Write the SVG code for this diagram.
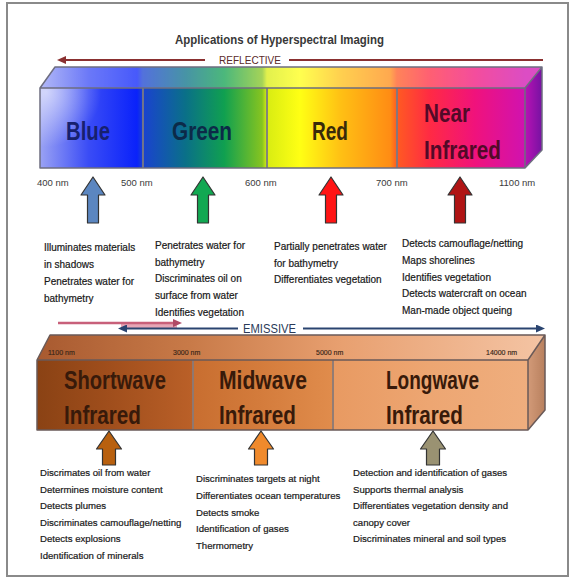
<svg xmlns="http://www.w3.org/2000/svg" width="573" height="581" viewBox="0 0 573 581">
<style>
.t{font-family:"Liberation Sans",Arial,sans-serif;fill:#181818;font-size:10px;stroke:#181818;stroke-width:0.2}
.tb{font-size:9.6px}
.nm{font-family:"Liberation Sans",Arial,sans-serif;fill:#3a3a3a;font-size:9.5px}
.nm2{font-family:"Liberation Sans",Arial,sans-serif;fill:#3a2618;font-size:7px;stroke:#3a2618;stroke-width:0.15}
.band{font-family:"Liberation Sans",Arial,sans-serif;font-size:26px;font-weight:bold}
.edge{fill:none;stroke:#6e6e80;stroke-width:1.5;stroke-linejoin:round}
.edge2{fill:none;stroke:#6a5a58;stroke-width:1.5;stroke-linejoin:round}
.div{stroke:#7a7a84;stroke-width:1.8}
.div2{stroke:#8a7a78;stroke-width:1.8}
.arr{stroke:#333;stroke-width:1.2;stroke-linejoin:round}
</style>
<defs>
<linearGradient id="specFront" gradientUnits="userSpaceOnUse" x1="40" y1="0" x2="525" y2="0">
<stop offset="0" stop-color="#9aa2f4"/>
<stop offset="0.1" stop-color="#3a4cf6"/>
<stop offset="0.2" stop-color="#0a22fa"/>
<stop offset="0.212" stop-color="#1a42d0"/>
<stop offset="0.3" stop-color="#0a7088"/>
<stop offset="0.38" stop-color="#10a050"/>
<stop offset="0.458" stop-color="#86c420"/>
<stop offset="0.468" stop-color="#d8ec12"/>
<stop offset="0.536" stop-color="#ffff14"/>
<stop offset="0.62" stop-color="#ffc014"/>
<stop offset="0.722" stop-color="#ff8c14"/>
<stop offset="0.736" stop-color="#ff5a22"/>
<stop offset="0.804" stop-color="#ff2a44"/>
<stop offset="0.897" stop-color="#f0127c"/>
<stop offset="1" stop-color="#d012b0"/>
</linearGradient>
<linearGradient id="specSide" x1="0" y1="0" x2="1" y2="0">
<stop offset="0" stop-color="#b812b4"/>
<stop offset="1" stop-color="#7612a2"/>
</linearGradient>
<radialGradient id="hl" gradientUnits="userSpaceOnUse" cx="46" cy="92" r="55">
<stop offset="0" stop-color="#fff" stop-opacity="0.6"/>
<stop offset="1" stop-color="#fff" stop-opacity="0"/>
</radialGradient>
<linearGradient id="irFront" gradientUnits="userSpaceOnUse" x1="37" y1="0" x2="528" y2="0">
<stop offset="0" stop-color="#8a4214"/>
<stop offset="0.149" stop-color="#a04e1c"/>
<stop offset="0.316" stop-color="#ba6028"/>
<stop offset="0.32" stop-color="#c86e30"/>
<stop offset="0.458" stop-color="#d47c3c"/>
<stop offset="0.601" stop-color="#e08c4c"/>
<stop offset="0.605" stop-color="#e89a62"/>
<stop offset="0.8" stop-color="#eda672"/>
<stop offset="1" stop-color="#efae7e"/>
</linearGradient>
<linearGradient id="irTop" gradientUnits="userSpaceOnUse" x1="37" y1="0" x2="545" y2="0">
<stop offset="0" stop-color="#a85a30"/>
<stop offset="0.3" stop-color="#c87a48"/>
<stop offset="0.6" stop-color="#e8a070"/>
<stop offset="1" stop-color="#f4c4a4"/>
</linearGradient>
<linearGradient id="irSide" x1="0" y1="0" x2="1" y2="0">
<stop offset="0" stop-color="#d29a78"/>
<stop offset="1" stop-color="#b8805e"/>
</linearGradient>
<path id="arrT" d="M0,0 L12,18 L5.5,18 L5.5,46 L-5.5,46 L-5.5,18 L-12,18 Z"/>
<path id="arrB" d="M0,0 L12.5,18 L6.5,18 L6.5,34 L-6.5,34 L-6.5,18 L-12.5,18 Z"/>
<marker id="mRed" markerUnits="userSpaceOnUse" markerWidth="10" markerHeight="8" refX="2" refY="4" orient="auto">
<path d="M0,0 L9,4 L0,8 Z" fill="#8a3030"/>
</marker>
<marker id="mPink" markerUnits="userSpaceOnUse" markerWidth="10" markerHeight="8" refX="2" refY="4" orient="auto">
<path d="M0,0 L9,4 L0,8 Z" fill="#b04a66"/>
</marker>
<marker id="mBlue" markerUnits="userSpaceOnUse" markerWidth="10" markerHeight="8" refX="2" refY="4" orient="auto">
<path d="M0,0 L9,4 L0,8 Z" fill="#2a4470"/>
</marker>
</defs>

<rect x="0" y="0" width="573" height="581" fill="#fff"/>
<rect id="frame" x="7" y="3" width="561" height="573" fill="#fff" stroke="#8a8a8a" stroke-width="2"/>

<g id="title">
<text x="175" y="44" font-family="'Liberation Sans',Arial,sans-serif" font-size="12.5" font-weight="bold" fill="#383838" textLength="209" lengthAdjust="spacingAndGlyphs">Applications of Hyperspectral Imaging</text>
</g>

<g id="reflective-bar">
<polygon points="40,88 55,67 542,67 525,88" fill="url(#specFront)"/>
<polygon points="40,88 55,67 542,67 525,88" fill="#fff" opacity="0.25"/>
<rect x="40" y="88" width="485" height="80" fill="url(#specFront)"/>
<rect x="40" y="88" width="100" height="80" fill="url(#hl)"/>
<polygon points="525,88 542,67 542,150 525,168" fill="url(#specSide)"/>
<line class="div" x1="143" y1="88" x2="143" y2="168"/>
<line class="div" x1="267" y1="88" x2="267" y2="168"/>
<line class="div" x1="397" y1="88" x2="397" y2="168"/>
<path class="edge" d="M40,88 L55,67 L542,67 L525,88 Z M40,88 V168 H525 V88 M525,168 L542,150 V67"/>
<text class="nm" x="37" y="186">400 nm</text>
<text class="nm" x="121" y="186">500 nm</text>
<text class="nm" x="245" y="186">600 nm</text>
<text class="nm" x="376" y="186">700 nm</text>
<text class="nm" x="499" y="186">1100 nm</text>
</g>

<g id="blue">
<text class="band" x="66" y="140" fill="#17206e" textLength="44" lengthAdjust="spacingAndGlyphs">Blue</text>
<text class="t" x="44" y="251">Illuminates materials</text>
<text class="t" x="44" y="268">in shadows</text>
<text class="t" x="44" y="285">Penetrates water for</text>
<text class="t" x="44" y="302">bathymetry</text>
</g>
<g id="green">
<text class="band" x="172" y="140" fill="#0c2a48" textLength="60" lengthAdjust="spacingAndGlyphs">Green</text>
<text class="t" x="155" y="249">Penetrates water for</text>
<text class="t" x="155" y="266">bathymetry</text>
<text class="t" x="155" y="282">Discriminates oil on</text>
<text class="t" x="155" y="299">surface from water</text>
<text class="t" x="155" y="316">Identifies vegetation</text>
</g>
<g id="red">
<text class="band" x="312" y="140" fill="#382a0a" textLength="36" lengthAdjust="spacingAndGlyphs">Red</text>
<text class="t" x="274" y="250">Partially penetrates water</text>
<text class="t" x="274" y="267">for bathymetry</text>
<text class="t" x="274" y="283">Differentiates vegetation</text>
</g>
<g id="near-infrared">
<text class="band" x="424" y="122" fill="#520a28" textLength="46" lengthAdjust="spacingAndGlyphs">Near</text>
<text class="band" x="424" y="159" fill="#520a28" textLength="77" lengthAdjust="spacingAndGlyphs">Infrared</text>
<text class="t" x="402" y="247">Detects camouflage/netting</text>
<text class="t" x="402" y="264">Maps shorelines</text>
<text class="t" x="402" y="281">Identifies vegetation</text>
<text class="t" x="402" y="297">Detects watercraft on ocean</text>
<text class="t" x="402" y="314">Man-made object queing</text>
</g>

<g id="emissive-bar">
<polygon points="37,360 50,335 545,335 528,360" fill="url(#irTop)"/>
<rect x="37" y="360" width="491" height="70" fill="url(#irFront)"/>
<polygon points="528,360 545,335 545,410 528,430" fill="url(#irSide)"/>
<line class="div2" x1="193" y1="360" x2="193" y2="430"/>
<line class="div2" x1="333" y1="360" x2="333" y2="430"/>
<path class="edge2" d="M37,360 L50,335 L545,335 L528,360 Z M37,360 V430 H528 V360 M528,430 L545,410 V335"/>
<text class="nm2" x="48" y="354.5">1100 nm</text>
<text class="nm2" x="173" y="354.5">3000 nm</text>
<text class="nm2" x="316" y="354.5">5000 nm</text>
<text class="nm2" x="486" y="354.5">14000 nm</text>
</g>

<g id="shortwave">
<text class="band" x="64" y="389" fill="#381a0a" textLength="102" lengthAdjust="spacingAndGlyphs">Shortwave</text>
<text class="band" x="64" y="424" fill="#381a0a" textLength="77" lengthAdjust="spacingAndGlyphs">Infrared</text>
<text class="t tb" x="40" y="476">Discrimates oil from water</text>
<text class="t tb" x="40" y="492.5">Determines moisture content</text>
<text class="t tb" x="40" y="509">Detects plumes</text>
<text class="t tb" x="40" y="525.5">Discriminates camouflage/netting</text>
<text class="t tb" x="40" y="542">Detects explosions</text>
<text class="t tb" x="40" y="558.5">Identification of minerals</text>
</g>
<g id="midwave">
<text class="band" x="219" y="389" fill="#381a0a" textLength="88" lengthAdjust="spacingAndGlyphs">Midwave</text>
<text class="band" x="219" y="424" fill="#381a0a" textLength="77" lengthAdjust="spacingAndGlyphs">Infrared</text>
<text class="t tb" x="196" y="481.5">Discriminates targets at night</text>
<text class="t tb" x="196" y="498.5">Differentiates ocean temperatures</text>
<text class="t tb" x="196" y="515.5">Detects smoke</text>
<text class="t tb" x="196" y="531.5">Identification of gases</text>
<text class="t tb" x="196" y="548.5">Thermometry</text>
</g>
<g id="longwave">
<text class="band" x="386" y="389" fill="#381a0a" textLength="93" lengthAdjust="spacingAndGlyphs">Longwave</text>
<text class="band" x="386" y="424" fill="#381a0a" textLength="77" lengthAdjust="spacingAndGlyphs">Infrared</text>
<text class="t tb" x="353" y="476">Detection and identification of gases</text>
<text class="t tb" x="353" y="492.5">Supports thermal analysis</text>
<text class="t tb" x="353" y="509">Differentiates vegetation density and</text>
<text class="t tb" x="353" y="525.5">canopy cover</text>
<text class="t tb" x="353" y="542">Discriminates mineral and soil types</text>
</g>

<g id="connectors">
<line x1="205" y1="60" x2="64" y2="60" stroke="#8a3030" stroke-width="2" marker-end="url(#mRed)"/>
<line x1="289" y1="60" x2="543" y2="60" stroke="#8a3030" stroke-width="2"/>
<text x="219" y="64" font-family="'Liberation Sans',Arial,sans-serif" font-size="10.5" fill="#5a2a2a" textLength="62" lengthAdjust="spacingAndGlyphs">REFLECTIVE</text>
<rect x="121" y="323" width="56" height="5.5" fill="#e6a6b6"/>
<line x1="58" y1="323" x2="175" y2="323" stroke="#c8607a" stroke-width="2.5" marker-end="url(#mPink)"/>
<line x1="238" y1="328.5" x2="125" y2="328.5" stroke="#2a4470" stroke-width="2.2" marker-end="url(#mBlue)"/>
<line x1="303" y1="328.5" x2="538" y2="328.5" stroke="#2a4470" stroke-width="2.2" marker-end="url(#mBlue)"/>
<text x="243" y="333" font-family="'Liberation Sans',Arial,sans-serif" font-size="12" fill="#2a3a58" textLength="53" lengthAdjust="spacingAndGlyphs">EMISSIVE</text>
<use href="#arrT" x="93" y="177" fill="#5b86c0" class="arr"/>
<use href="#arrT" x="203" y="177" fill="#12a852" class="arr"/>
<use href="#arrT" x="331" y="177" fill="#ff1414" class="arr"/>
<use href="#arrT" x="460" y="177" fill="#b01414" class="arr"/>
<use href="#arrB" x="109" y="431" fill="#b8600f" class="arr"/>
<use href="#arrB" x="261" y="431" fill="#f08a2c" class="arr"/>
<use href="#arrB" x="433" y="431" fill="#9a9272" class="arr"/>
</g>
</svg>
